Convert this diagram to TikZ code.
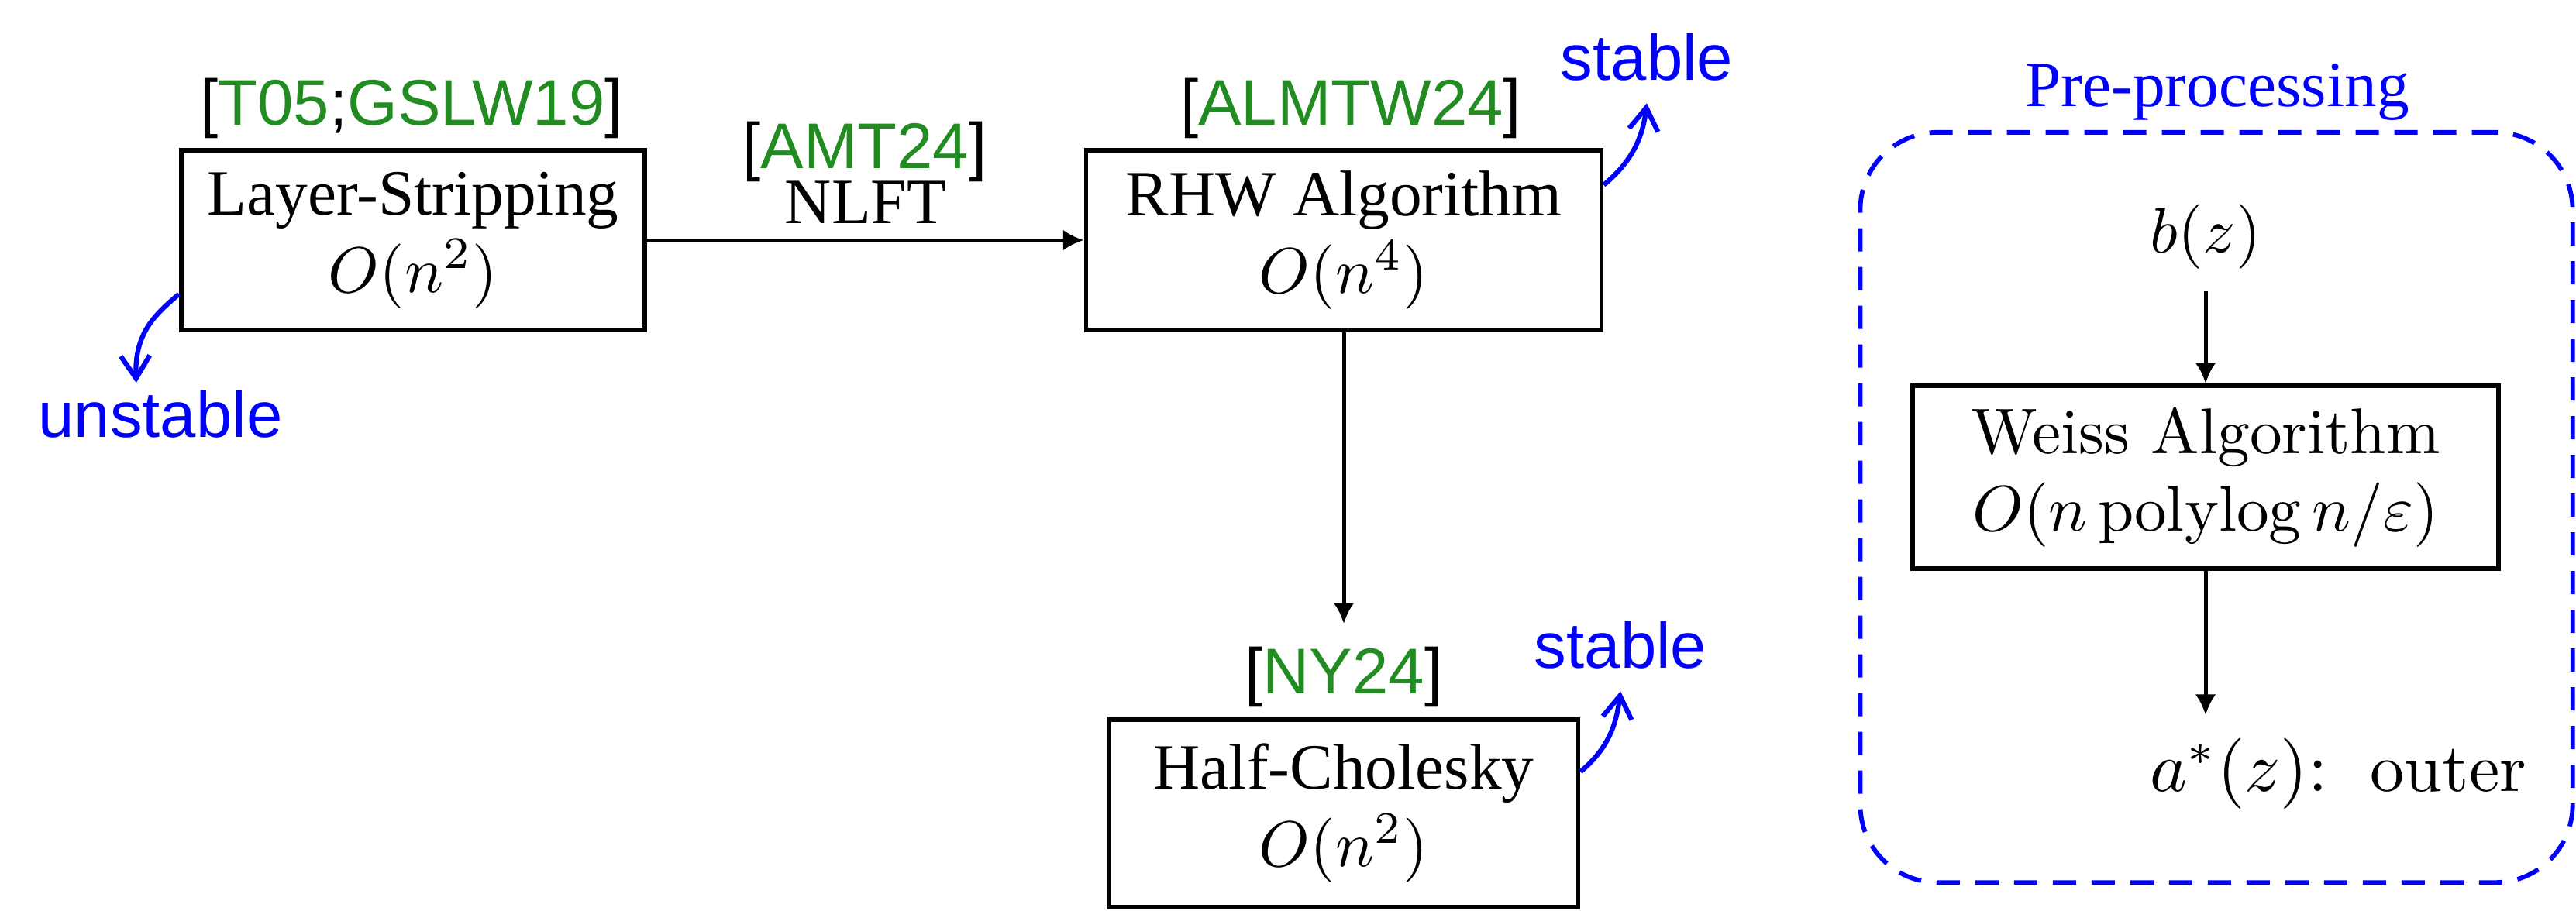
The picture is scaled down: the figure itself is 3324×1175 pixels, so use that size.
\documentclass[tikz,border=0pt]{standalone}
\usepackage{fontspec}
\usetikzlibrary{arrows.meta}
\newfontfamily\timesf{Liberation Serif}
\newfontfamily\arialf{Liberation Sans}
\definecolor{refgreen}{RGB}{34,139,34}
\newcommand{\rg}[1]{\textcolor{refgreen}{#1}}

\begin{document}
\begin{tikzpicture}[x=0.12pt,y=0.12pt,yscale=-1,
  algbox/.style={draw,line width=0.7pt,align=center,font=\timesf,inner sep=0pt},
  ref/.style={font=\arialf,anchor=base},
  note/.style={font=\arialf,text=blue,anchor=base},
  flow/.style={-{Latex[length=3.2pt,width=3.2pt]},line width=0.6pt},
  curvearrow/.style={-{Straight Barb[length=3.5pt,width=4.5pt]},draw=blue,line width=0.75pt}]
\useasboundingbox (0,0) rectangle (3324,1175);
\node (layer) [algbox,minimum width=71.8pt,minimum height=27.8pt] at (533,310) {Layer-Stripping\\$O(n^2)$};
\node (rhw) [algbox,minimum width=79.8pt,minimum height=27.8pt] at (1734,310) {RHW Algorithm\\$O(n^4)$};
\node (hc) [algbox,minimum width=72.6pt,minimum height=29pt] at (1734,1050) {Half-Cholesky\\$O(n^2)$};
\node (lsref) [ref] at (531,161) {[\rg{T05};\rg{GSLW19}]};
\node (amtref) [ref] at (1116,217) {[\rg{AMT24}]};
\node (nlft) [font=\timesf,anchor=base] at (1117,288) {NLFT};
\node (rhwref) [ref] at (1743,161) {[\rg{ALMTW24}]};
\node (hcref) [ref] at (1734,895) {[\rg{NY24}]};
\node (unst) [note] at (207,564) {unstable};
\node (stab) [note] at (2125,103) {stable};
\node (hcstab) [note] at (2091,862) {stable};
\draw[flow] (layer) -- (rhw);
\draw[flow] (rhw) -- (hcref);
\draw[curvearrow,shorten >=-2.4pt] (layer.193) to[out=140,in=-92] (unst.118);
\draw[curvearrow] (rhw.12) to[out=-40,in=97] (stab.south);
\draw[curvearrow] (hc.10) to[out=-40,in=97] (hcstab.south);
\node (pre) [draw=blue,line width=0.7pt,dash pattern=on 3.6pt off 2.4pt,rounded corners=12pt,minimum width=110.3pt,minimum height=116.2pt] at (2860,655) {};
\node (pretitle) [font=\timesf,text=blue,anchor=base] at (2861,137) {Pre-processing};
\node (bz) [anchor=base] at (2846,326) {$b(z)$};
\node (weiss) [algbox,font=\rmfamily,minimum width=90.7pt,minimum height=28.3pt] at (2846,616) {Weiss Algorithm\\$O(n\,\mathrm{polylog}\,n/\varepsilon)$};
\node (outer) [anchor=base west,font=\fontsize{10.6}{12}\selectfont] at (2745,1021) {$a^*(z)\colon\;$ outer};
\draw[flow] (bz) -- (weiss);
\draw[flow] (weiss) -- (weiss |- outer.north);
\end{tikzpicture}
\end{document}
